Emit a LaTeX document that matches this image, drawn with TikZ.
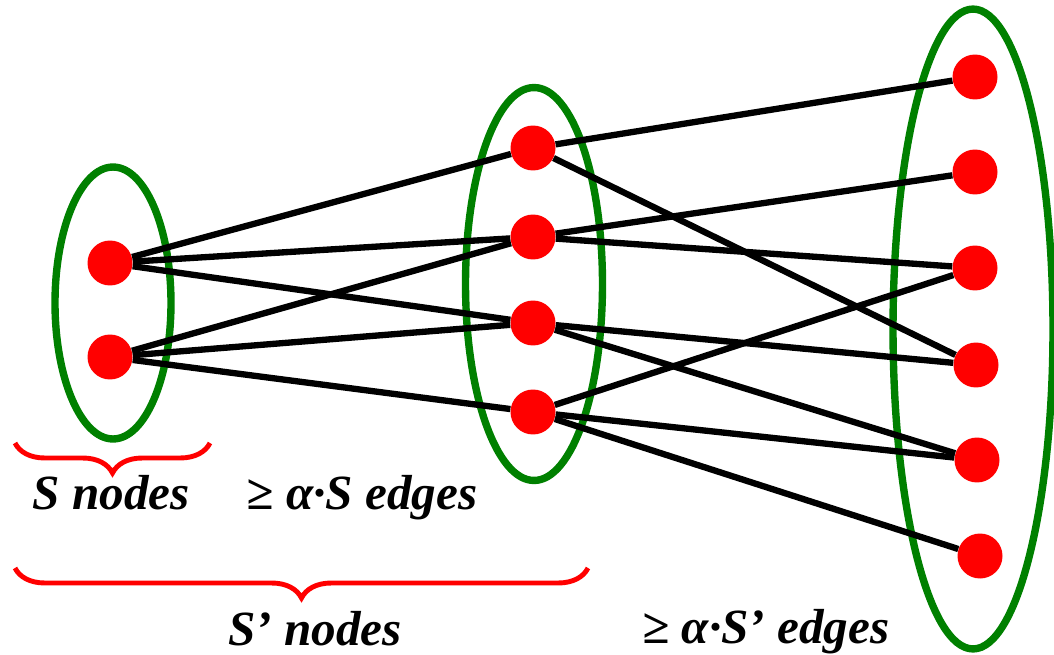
\documentclass[tikz,border=0pt]{standalone}
\usepackage{fontspec}
\setmainfont{Liberation Serif}[BoldItalicFont={Liberation Serif Bold Italic}]
\usetikzlibrary{shapes,decorations.pathreplacing}
\definecolor{NodeRed}{RGB}{255, 0, 0}
\definecolor{SetGreen}{RGB}{0, 128, 0}
\tikzset{
  vtx/.style={circle, fill=NodeRed, inner sep=0pt, minimum size=0.9cm},
  grp/.style={ellipse, draw=SetGreen, line width=4.2pt, inner sep=0pt},
  lnk/.style={line width=3.6pt, black},
  brc/.style={decorate, decoration={brace, mirror, amplitude=0.6cm}, NodeRed, line width=2.8pt},
  lbl/.style={anchor=base, font=\fontsize{28}{34}\selectfont\bfseries\itshape}
}
\begin{document}
\begin{tikzpicture}[x=0.02cm, y=-0.02cm]
    \useasboundingbox (0,0) rectangle (1054,655);

    % Sets
    \node[grp, minimum width=2.32cm, minimum height=5.44cm] (gl) at (113,303) {};
    \node[grp, minimum width=2.74cm, minimum height=7.86cm] (gm) at (534,284) {};
    \node[grp, minimum width=3.2cm, minimum height=12.8cm] (gr) at (973,329) {};

    % Left nodes
    \node[vtx] (l1) at (110,263) {};
    \node[vtx] (l2) at (110,357) {};

    % Middle nodes
    \node[vtx] (m1) at (533,148) {};
    \node[vtx] (m2) at (533,237) {};
    \node[vtx] (m3) at (533,323) {};
    \node[vtx] (m4) at (533,412) {};

    % Right nodes
    \node[vtx] (r1) at (975,77) {};
    \node[vtx] (r2) at (975,172) {};
    \node[vtx] (r3) at (975,268) {};
    \node[vtx] (r4) at (976,365) {};
    \node[vtx] (r5) at (977,460) {};
    \node[vtx] (r6) at (980,556) {};

    % Edges S -> S'
    \draw[lnk] (l1) -- (m1);
    \draw[lnk] (l1) -- (m2);
    \draw[lnk] (l1) -- (m3);
    \draw[lnk] (l2) -- (m2);
    \draw[lnk] (l2) -- (m3);
    \draw[lnk] (l2) -- (m4);

    % Edges S' -> next
    \draw[lnk] (m1) -- (r1);
    \draw[lnk] (m1) -- (r4);
    \draw[lnk] (m2) -- (r2);
    \draw[lnk] (m2) -- (r3);
    \draw[lnk] (m3) -- (r4);
    \draw[lnk] (m3) -- (r5);
    \draw[lnk] (m4) -- (r3);
    \draw[lnk] (m4) -- (r5);
    \draw[lnk] (m4) -- (r6);

    % Braces
    \coordinate (b1s) at (15,443);
    \coordinate (b1e) at (210,443);
    \coordinate (b2s) at (15,568);
    \coordinate (b2e) at (588,568);
    \draw[brc] (b1s) -- (b1e);
    \draw[brc] (b2s) -- (b2e);

    % Labels
    \node[lbl] (sn) at (111,509) {S nodes};
    \node[lbl] (se) at (362,509) {≥ α·S edges};
    \node[lbl] (spn) at (315,645) {S’ nodes};
    \node[lbl] (spe) at (766,643) {≥ α·S’ edges};
\end{tikzpicture}
\end{document}
